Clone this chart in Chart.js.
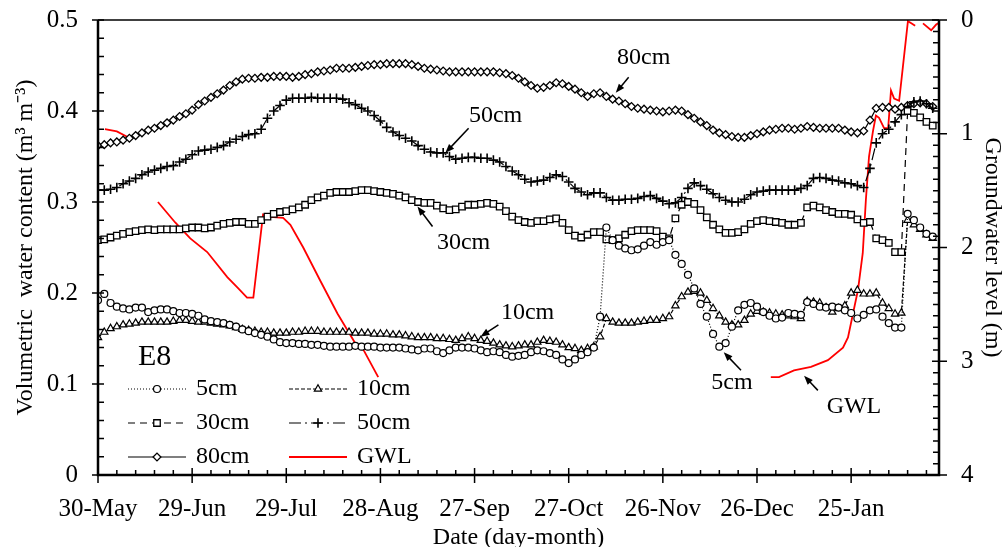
<!DOCTYPE html>
<html>
<head>
<meta charset="utf-8">
<script src="https://cdn.jsdelivr.net/npm/chart.js@4.4.1/dist/chart.umd.min.js"></script>
<style>
  html, body { margin: 0; padding: 0; background: #fff; }
</style>
</head>
<body>
<canvas id="chart" width="1007" height="547"></canvas>
<script>
// x ticks: days since 30-May, one label every 30 days
const dateTickLabels = ["30-May", "29-Jun", "29-Jul", "28-Aug", "27-Sep", "27-Oct", "26-Nov", "26-Dec", "25-Jan"];
const vwcTickLabels = ["0", "0.1", "0.2", "0.3", "0.4", "0.5"];
const gwlTickLabels = ["0", "1", "2", "3", "4"];

// volumetric water content, read every 2nd day starting 30-May
const vwc5cm = [
  0.192, 0.199, 0.189, 0.185, 0.183, 0.182, 0.184, 0.184, 0.179, 0.181,
  0.182, 0.182, 0.180, 0.178, 0.178, 0.177, 0.175, 0.171, 0.169, 0.168,
  0.167, 0.165, 0.163, 0.160, 0.158, 0.156, 0.154, 0.152, 0.149, 0.146,
  0.145, 0.145, 0.144, 0.144, 0.143, 0.143, 0.142, 0.141, 0.141, 0.141,
  0.141, 0.142, 0.141, 0.141, 0.141, 0.140, 0.140, 0.140, 0.140, 0.139,
  0.138, 0.137, 0.139, 0.139, 0.136, 0.134, 0.137, 0.140, 0.140, 0.140,
  0.139, 0.137, 0.135, 0.136, 0.135, 0.132, 0.130, 0.131, 0.132, 0.135,
  0.137, 0.136, 0.134, 0.132, 0.127, 0.123, 0.127, 0.132, 0.135, 0.140,
  0.174, 0.272, 0.258, 0.252, 0.249, 0.247, 0.248, 0.252, 0.256, 0.253,
  0.256, 0.258, 0.242, 0.232, 0.220, 0.205, 0.188, 0.174, 0.155, 0.141,
  0.145, 0.163, 0.181, 0.187, 0.189, 0.185, 0.179, 0.175, 0.172, 0.173,
  0.178, 0.177, 0.176, 0.190, 0.188, 0.185, 0.184, 0.185, 0.184, 0.181,
  0.178, 0.172, 0.176, 0.181, 0.182, 0.174, 0.167, 0.162, 0.162, 0.287,
  0.280, 0.272, 0.265, 0.262
];
const vwc10cm = [
  0.151, 0.157, 0.161, 0.163, 0.165, 0.166, 0.167, 0.168, 0.168, 0.168,
  0.168, 0.168, 0.169, 0.170, 0.170, 0.169, 0.168, 0.168, 0.167, 0.166,
  0.165, 0.164, 0.162, 0.160, 0.159, 0.158, 0.157, 0.157, 0.156, 0.156,
  0.156, 0.157, 0.157, 0.158, 0.158, 0.158, 0.157, 0.157, 0.157, 0.157,
  0.157, 0.156, 0.156, 0.156, 0.155, 0.155, 0.155, 0.154, 0.154, 0.153,
  0.152, 0.151, 0.151, 0.151, 0.150, 0.150, 0.149, 0.148, 0.150, 0.152,
  0.150, 0.148, 0.147, 0.145, 0.143, 0.142, 0.141, 0.142, 0.143, 0.143,
  0.146, 0.148, 0.147, 0.146, 0.143, 0.140, 0.139, 0.137, 0.139, 0.141,
  0.152, 0.172, 0.168, 0.167, 0.167, 0.167, 0.168, 0.169, 0.170, 0.170,
  0.172, 0.174, 0.186, 0.196, 0.201, 0.202, 0.200, 0.192, 0.183, 0.175,
  0.168, 0.165, 0.165, 0.170, 0.177, 0.180, 0.179, 0.178, 0.177, 0.176,
  0.175, 0.174, 0.172, 0.191, 0.190, 0.189, 0.184, 0.179, 0.183, 0.186,
  0.200, 0.203, 0.199, 0.199, 0.200, 0.189, 0.183, 0.177, 0.178, 0.280,
  0.275, 0.270, 0.264, 0.260
];
const vwc30cm = [
  0.258, 0.259, 0.261, 0.263, 0.265, 0.267, 0.268, 0.269, 0.270, 0.269,
  0.270, 0.270, 0.270, 0.270, 0.271, 0.272, 0.272, 0.271, 0.272, 0.274,
  0.276, 0.277, 0.278, 0.278, 0.276, 0.276, 0.280, 0.284, 0.287, 0.289,
  0.290, 0.292, 0.294, 0.297, 0.302, 0.305, 0.307, 0.310, 0.311, 0.311,
  0.311, 0.312, 0.313, 0.313, 0.312, 0.311, 0.310, 0.309, 0.307, 0.305,
  0.302, 0.300, 0.299, 0.299, 0.296, 0.293, 0.291, 0.292, 0.295, 0.297,
  0.297, 0.298, 0.299, 0.298, 0.295, 0.290, 0.284, 0.280, 0.278, 0.277,
  0.279, 0.279, 0.281, 0.282, 0.277, 0.269, 0.263, 0.261, 0.264, 0.267,
  0.267, 0.259, 0.258, 0.260, 0.264, 0.268, 0.269, 0.269, 0.269, 0.268,
  0.262, 0.260, 0.282, 0.297, 0.300, 0.298, 0.291, 0.283, 0.275, 0.270,
  0.266, 0.266, 0.267, 0.270, 0.276, 0.279, 0.280, 0.279, 0.278, 0.277,
  0.275, 0.275, 0.277, 0.294, 0.296, 0.294, 0.291, 0.289, 0.287, 0.287,
  0.286, 0.281, 0.277, 0.278, 0.260, 0.258, 0.255, 0.245, 0.245, 0.400,
  0.398, 0.393, 0.388, 0.384
];
const vwc50cm = [
  0.313, 0.313, 0.314, 0.316, 0.320, 0.323, 0.326, 0.330, 0.333, 0.335,
  0.337, 0.339, 0.340, 0.344, 0.347, 0.352, 0.356, 0.357, 0.358, 0.360,
  0.362, 0.366, 0.369, 0.372, 0.374, 0.375, 0.380, 0.392, 0.400, 0.406,
  0.412, 0.414, 0.414, 0.414, 0.415, 0.414, 0.414, 0.414, 0.414, 0.413,
  0.409, 0.407, 0.403, 0.400, 0.395, 0.389, 0.382, 0.377, 0.373, 0.370,
  0.367, 0.362, 0.358, 0.355, 0.354, 0.354, 0.350, 0.347, 0.348, 0.349,
  0.349, 0.348, 0.348, 0.346, 0.344, 0.339, 0.334, 0.330, 0.325, 0.322,
  0.323, 0.324, 0.327, 0.330, 0.328, 0.322, 0.315, 0.311, 0.308, 0.310,
  0.310, 0.305, 0.302, 0.302, 0.303, 0.303, 0.304, 0.306, 0.307, 0.304,
  0.301, 0.298, 0.299, 0.305, 0.315, 0.321, 0.318, 0.314, 0.309, 0.305,
  0.302, 0.300, 0.300, 0.303, 0.308, 0.311, 0.312, 0.313, 0.313, 0.313,
  0.313, 0.313, 0.315, 0.318, 0.326, 0.327, 0.326, 0.324, 0.323, 0.321,
  0.320, 0.318, 0.316, 0.337, 0.365, 0.375, 0.380, 0.388, 0.396, 0.405,
  0.410, 0.411, 0.408, 0.403
];
const vwc80cm = [
  0.362, 0.363, 0.365, 0.366, 0.368, 0.370, 0.373, 0.376, 0.379, 0.381,
  0.384, 0.387, 0.390, 0.394, 0.397, 0.401, 0.407, 0.411, 0.415, 0.419,
  0.423, 0.428, 0.432, 0.435, 0.436, 0.436, 0.437, 0.437, 0.438, 0.438,
  0.438, 0.437, 0.438, 0.440, 0.441, 0.443, 0.444, 0.445, 0.447, 0.447,
  0.447, 0.448, 0.449, 0.450, 0.451, 0.451, 0.452, 0.452, 0.452, 0.452,
  0.451, 0.449, 0.447, 0.446, 0.445, 0.444, 0.443, 0.443, 0.443, 0.443,
  0.443, 0.443, 0.443, 0.443, 0.442, 0.441, 0.439, 0.436, 0.432, 0.428,
  0.425, 0.426, 0.428, 0.431, 0.430, 0.427, 0.424, 0.420, 0.416, 0.419,
  0.420, 0.416, 0.413, 0.411, 0.408, 0.405, 0.403, 0.402, 0.401, 0.400,
  0.399, 0.400, 0.401, 0.400, 0.396, 0.392, 0.388, 0.384, 0.379, 0.376,
  0.374, 0.372, 0.371, 0.371, 0.373, 0.375, 0.377, 0.379, 0.380, 0.381,
  0.381, 0.380, 0.381, 0.383, 0.382, 0.381, 0.381, 0.381, 0.381, 0.379,
  0.377, 0.376, 0.378, 0.390, 0.403, 0.404, 0.404, 0.402, 0.404, 0.406,
  0.408, 0.409, 0.408, 0.405
];

// groundwater level (m below surface); null = gap in the record
const gwlDays = [
  2.2, 6.0, 10.2, 15,
  19.1, 24.6, 29.4, 34.8, 41.2, 44.4, 47.5, 49.5, 52.6, 54.9, 59.0, 61.3,
  65.4, 70.8, 76.3, 82.6, 84.6, 89.3, 150,
  214.4, 217.0, 221.8, 227.2, 232.6, 237.4, 239.0, 240.6, 242.2, 243.7,
  244.7, 245.7, 247.0, 247.9, 248.9, 250.5, 251.8, 252.7, 253.7, 255.3,
  256.5, 258.1, 259.3, 260.4, 261.5,
  262.9, 265.5, 267.1, 268.3
];
const gwlLevels = [
  0.96, 0.98, 1.04, null,
  1.60, 1.78, 1.92, 2.04, 2.26, 2.35, 2.44, 2.44, 1.71, 1.73, 1.74, 1.80,
  2.00, 2.29, 2.58, 2.87, 2.90, 3.14, null,
  3.14, 3.14, 3.08, 3.05, 2.99, 2.88, 2.79, 2.58, 2.37, 2.05,
  1.58, 1.20, 0.97, 0.84, 0.86, 0.95, 0.95, 0.62, 0.69, 0.71,
  0.41, 0.01, 0.03, 0.05, null,
  0.03, 0.09, 0.04, 0.02
];

const sampleDays = vwc80cm.map((_, i) => i * 2);
const toPoints = (vals) => vals.map((v, i) => ({ x: sampleDays[i], y: v }));
const gwlPoints = gwlDays.map((d, i) => ({ x: d, y: gwlLevels[i] }));

const serif = '"Liberation Serif", "Times New Roman", serif';

// text labels with arrows, in data units (day, vwc)
const notes = [
  { text: "80cm", at: [173.9, 0.459], from: [169.1, 0.437], to: [165.0, 0.420] },
  { text: "50cm", at: [126.7, 0.395], from: [118.1, 0.381], to: [110.7, 0.354] },
  { text: "30cm", at: [116.5, 0.255], from: [106.6, 0.273], to: [101.8, 0.295] },
  { text: "10cm", at: [136.9, 0.178], from: [127.6, 0.165], to: [121.9, 0.152] },
  { text: "5cm", at: [202.0, 0.101], from: [204.9, 0.115], to: [199.4, 0.135] },
  { text: "GWL", at: [240.9, 0.075], from: [229.4, 0.093], to: [225.0, 0.109] }
];

function arrow(ctx, x1, y1, x2, y2) {
  const a = Math.atan2(y2 - y1, x2 - x1);
  const hl = 9, hw = 3.5;
  ctx.beginPath();
  ctx.moveTo(x1, y1);
  ctx.lineTo(x2 - Math.cos(a) * hl * 0.8, y2 - Math.sin(a) * hl * 0.8);
  ctx.stroke();
  ctx.beginPath();
  ctx.moveTo(x2, y2);
  ctx.lineTo(x2 - Math.cos(a) * hl - Math.sin(a) * hw, y2 - Math.sin(a) * hl + Math.cos(a) * hw);
  ctx.lineTo(x2 - Math.cos(a) * hl + Math.sin(a) * hw, y2 - Math.sin(a) * hl - Math.cos(a) * hw);
  ctx.closePath();
  ctx.fill();
}

const framePlugin = {
  id: "frameAndNotes",
  afterDraw(chart) {
    const ctx = chart.ctx;
    const { left, right, top, bottom } = chart.chartArea;
    const xs = chart.scales.x, ys = chart.scales.y, gs = chart.scales.y2;
    ctx.save();
    ctx.strokeStyle = "#000";
    ctx.fillStyle = "#000";

    // frame
    ctx.lineWidth = 1.5;
    ctx.beginPath();
    ctx.moveTo(left, top);
    ctx.lineTo(right, top);
    ctx.stroke();
    ctx.lineWidth = 2.5;
    ctx.beginPath();
    ctx.moveTo(left, top);
    ctx.lineTo(left, bottom);
    ctx.lineTo(right, bottom);
    ctx.lineTo(right, top);
    ctx.stroke();

    // tick marks
    ctx.lineWidth = 1.5;
    ctx.beginPath();
    for (let d = 0; d <= 268; d += 6) {
      const px = xs.getPixelForValue(d);
      if (d % 30 === 0) { ctx.moveTo(px, bottom - 7); ctx.lineTo(px, bottom + 8); }
      else { ctx.moveTo(px, bottom - 5); ctx.lineTo(px, bottom); }
    }
    for (let k = 0; k <= 25; k++) {
      const py = ys.getPixelForValue(k * 0.02);
      if (k % 5 === 0) { ctx.moveTo(left - 6, py); ctx.lineTo(left + 6, py); }
      else { ctx.moveTo(left, py); ctx.lineTo(left + 6, py); }
    }
    for (let k = 0; k <= 40; k++) {
      const py = gs.getPixelForValue(k * 0.1);
      if (k % 10 === 0) { ctx.moveTo(right - 7, py); ctx.lineTo(right + 8, py); }
      else { ctx.moveTo(right - 6, py); ctx.lineTo(right, py); }
    }
    ctx.stroke();

    // labels with arrows
    ctx.font = "24px " + serif;
    ctx.textAlign = "center";
    ctx.textBaseline = "middle";
    ctx.lineWidth = 1.5;
    notes.forEach((n) => {
      ctx.fillText(n.text, xs.getPixelForValue(n.at[0]), ys.getPixelForValue(n.at[1]));
      arrow(ctx, xs.getPixelForValue(n.from[0]), ys.getPixelForValue(n.from[1]),
        xs.getPixelForValue(n.to[0]), ys.getPixelForValue(n.to[1]));
    });
    ctx.font = "30px " + serif;
    ctx.textAlign = "left";
    ctx.fillText("E8", left + 40, 357);

    // legend inside the plot
    const slots = [[128, 389], [289, 389], [128, 423], [289, 423], [128, 457], [289, 457]];
    chart.data.datasets.forEach((ds, i) => {
      const [lx, ly] = slots[i];
      ctx.save();
      ctx.strokeStyle = ds.borderColor;
      ctx.lineWidth = ds.borderWidth;
      ctx.setLineDash(ds.borderDash || []);
      ctx.beginPath();
      ctx.moveTo(lx, ly);
      ctx.lineTo(lx + 58, ly);
      ctx.stroke();
      ctx.setLineDash([]);
      if (ds.pointRadius > 0) {
        ctx.fillStyle = "#fff";
        ctx.strokeStyle = "#000";
        ctx.lineWidth = ds.pointBorderWidth;
        Chart.helpers.drawPoint(ctx, {
          pointStyle: ds.pointStyle, radius: ds.pointRadius,
          rotation: 0, borderWidth: ds.pointBorderWidth
        }, lx + 29, ly);
      }
      ctx.restore();
      ctx.font = "24px " + serif;
      ctx.textAlign = "left";
      ctx.textBaseline = "middle";
      ctx.fillStyle = "#000";
      ctx.fillText(ds.label, lx + 68, ly);
    });
    ctx.restore();
  }
};

function soilSet(label, vals, style, radius, dash, pbw) {
  return {
    label: label,
    data: toPoints(vals),
    yAxisID: "y",
    borderColor: "#000",
    borderWidth: 1.2,
    borderDash: dash,
    pointStyle: style,
    pointRadius: radius,
    pointBorderWidth: pbw,
    pointBackgroundColor: "#fff",
    pointBorderColor: "#000",
    tension: 0
  };
}

// fixed box sizes so the plot area sits where the original one does
function fitVertical(width) {
  return (s) => { s.width = width; s.paddingTop = 0; s.paddingBottom = 0; };
}

new Chart(document.getElementById("chart"), {
  type: "line",
  data: {
    datasets: [
      soilSet("5cm", vwc5cm, "circle", 3.5, [1, 2], 1.2),
      soilSet("10cm", vwc10cm, "triangle", 4.2, [4, 2], 1.2),
      soilSet("30cm", vwc30cm, "rect", 4.6, [7, 5], 1.3),
      soilSet("50cm", vwc50cm, "cross", 4.8, [12, 4, 2, 4], 1.6),
      soilSet("80cm", vwc80cm, "rectRot", 3.9, [], 1.3),
      {
        label: "GWL",
        data: gwlPoints,
        yAxisID: "y2",
        borderColor: "#ff0000",
        borderWidth: 1.8,
        pointRadius: 0,
        spanGaps: false,
        tension: 0
      }
    ]
  },
  options: {
    responsive: false,
    animation: false,
    devicePixelRatio: 1,
    layout: { padding: { top: 20, left: 0, right: 0, bottom: 0 } },
    plugins: { legend: { display: false }, tooltip: { enabled: false } },
    scales: {
      x: {
        type: "linear",
        min: 0,
        max: 268,
        afterFit: (s) => { s.height = 72; s.paddingLeft = 0; s.paddingRight = 0; },
        grid: { display: false },
        border: { display: false },
        ticks: {
          stepSize: 30,
          includeBounds: false,
          autoSkip: false,
          maxRotation: 0,
          padding: 11,
          color: "#000",
          font: { family: serif, size: 25 },
          callback: (v) => dateTickLabels[Math.round(v / 30)]
        },
        title: {
          display: true,
          text: "Date (day-month)",
          color: "#000",
          font: { family: serif, size: 24, lineHeight: 0.8 },
          padding: { top: 0, bottom: 0 }
        }
      },
      y: {
        position: "left",
        min: 0,
        max: 0.5,
        afterFit: fitVertical(98),
        grid: { display: false },
        border: { display: false },
        ticks: {
          stepSize: 0.1,
          padding: 12,
          color: "#000",
          font: { family: serif, size: 25 },
          callback: (v) => vwcTickLabels[Math.round(v * 10)]
        },
        title: {
          display: true,
          text: "Volumetric  water content (m\u00b3 m\u207b\u00b3)",
          color: "#000",
          font: { family: serif, size: 24 },
          padding: { top: 11, bottom: 0 }
        }
      },
      y2: {
        position: "right",
        min: 0,
        max: 4,
        reverse: true,
        afterFit: fitVertical(68),
        grid: { display: false },
        border: { display: false },
        ticks: {
          stepSize: 1,
          padding: 14,
          color: "#000",
          font: { family: serif, size: 25 },
          callback: (v) => gwlTickLabels[Math.round(v)]
        },
        title: {
          display: true,
          text: "Groundwater level (m)",
          color: "#000",
          font: { family: serif, size: 24 },
          padding: { top: 0, bottom: 0 }
        }
      }
    }
  },
  plugins: [framePlugin]
});
</script>
</body>
</html>
